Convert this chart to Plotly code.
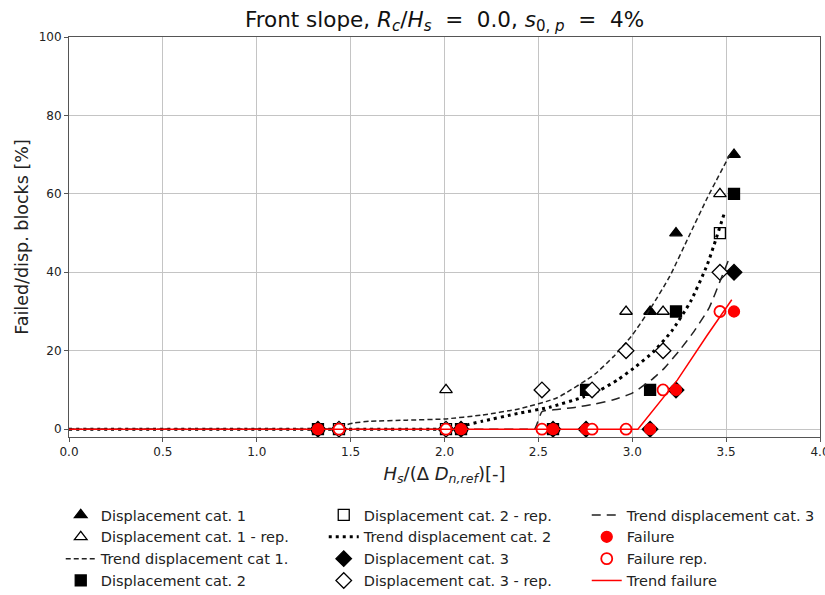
import plotly.graph_objects as go

# Measured points: Hs/(Delta Dn,ref) and percentage of displaced / failed blocks
hs_orig = [1.326, 2.088, 2.578, 2.754, 3.095, 3.233, 3.542]
hs_rep = [1.438, 2.008, 2.519, 2.786, 2.967, 3.164, 3.467]

cat1_x = [1.326, 2.088, 2.578, 3.095, 3.233, 3.542]
cat1_y = [0, 0, 0, 30, 50, 70]
cat1_rep_x = [1.438, 2.008, 2.967, 3.164, 3.467]
cat1_rep_y = [0, 10, 30, 30, 60]

cat2_y = [0, 0, 0, 10, 10, 30, 60]
cat2_rep_x = [1.438, 2.008, 3.467]
cat2_rep_y = [0, 0, 50]

cat3_y = [0, 0, 0, 0, 0, 10, 40]
cat3_rep_y = [0, 0, 10, 10, 20, 20, 40]

failure_y = [0, 0, 0, 0, 0, 10, 30]
failure_rep_y = [0, 0, 0, 0, 0, 10, 30]

# Fitted trend curves
trend1_x = [0.0, 1.40, 1.44, 1.47, 1.52, 1.6, 1.8, 2.0, 2.2, 2.4, 2.6, 2.8, 2.9, 3.0, 3.1, 3.2, 3.3, 3.4, 3.52]
trend1_y = [0.0, 0.0, 0.0, 1.0, 1.6, 2.0, 2.3, 2.6, 3.6, 5.2, 8.0, 14.0, 18.5, 24.0, 31.0, 39.0, 49.0, 59.0, 70.0]

trend2_x = [0.0, 2.04, 2.08, 2.1, 2.2, 2.39, 2.56, 2.74, 2.83, 2.92, 3.02, 3.11, 3.21, 3.31, 3.4, 3.49]
trend2_y = [0.0, 0.0, 0.0, 0.8, 2.0, 4.0, 5.6, 8.2, 10.0, 12.5, 16.0, 19.6, 25.0, 32.5, 42.0, 55.0]

trend3_x = [0.0, 2.44, 2.48, 2.52, 2.6, 2.7, 2.8, 2.9, 3.0, 3.1, 3.17, 3.25, 3.33, 3.41, 3.47, 3.52]
trend3_y = [0.0, 0.0, 0.0, 4.5, 5.0, 5.6, 6.4, 7.5, 9.2, 12.5, 15.5, 20.0, 25.0, 31.0, 38.0, 44.0]

trend_fail_x = [0.0, 3.03, 3.24, 3.4, 3.53]
trend_fail_y = [0.0, 0.0, 12.5, 24.0, 33.0]

x_ticks = [0.0, 0.5, 1.0, 1.5, 2.0, 2.5, 3.0, 3.5, 4.0]
y_ticks = [0, 20, 40, 60, 80, 100]

FONT = "DejaVu Sans"
BLACK = "black"
RED = "#ff0000"

fig = go.Figure()


def markers(name, x, y, symbol, size, fill, edge, rank, lw=1.3):
    fig.add_trace(go.Scatter(
        x=x, y=y, mode="markers", name=name, legendrank=rank,
        marker=dict(symbol=symbol, size=size, color=fill,
                    line=dict(color=edge, width=lw)),
    ))


def trend(name, x, y, color, dash, width, rank, shape="spline"):
    fig.add_trace(go.Scatter(
        x=x, y=y, mode="lines", name=name, legendrank=rank,
        line=dict(color=color, dash=dash, width=width, shape=shape,
                  smoothing=0.5 if shape == "spline" else None),
    ))


# legendrank arranges the legend row by row into three columns
markers("Displacement cat. 1", cat1_x, cat1_y, "triangle-up", 11, BLACK, BLACK, 1)
markers("Displacement cat. 1 - rep.", cat1_rep_x, cat1_rep_y, "triangle-up", 11, "white", BLACK, 4)
trend("Trend displacement cat 1.", trend1_x, trend1_y, "#222222", "5px,3px", 1.5, 7)
markers("Displacement cat. 2", hs_orig, cat2_y, "square", 11, BLACK, BLACK, 10)
markers("Displacement cat. 2 - rep.", cat2_rep_x, cat2_rep_y, "square", 11, "white", BLACK, 2)
trend("Trend displacement cat. 2", trend2_x, trend2_y, BLACK, "3px,4px", 3, 5)
markers("Displacement cat. 3", hs_orig, cat3_y, "diamond", 12, BLACK, BLACK, 8)
markers("Displacement cat. 3 - rep.", hs_rep, cat3_rep_y, "diamond", 12, "white", BLACK, 11)
trend("Trend displacement cat. 3", trend3_x, trend3_y, "#222222", "9px,6px", 1.5, 3)
markers("Failure", hs_orig, failure_y, "circle", 11, RED, RED, 6)
markers("Failure rep.", hs_rep, failure_rep_y, "circle", 11, "white", RED, 9, lw=1.8)
trend("Trend failure", trend_fail_x, trend_fail_y, RED, "solid", 1.5, 12, shape="linear")

axis_common = dict(
    showline=True, linecolor="#555555", linewidth=1, mirror=True,
    ticks="outside", ticklen=4, tickcolor="#555555",
    showgrid=True, gridcolor="#c4c4c4", gridwidth=1, zeroline=False,
    tickfont=dict(family=FONT, size=12, color="#222222"),
    ticklabeloverflow="allow",
)

fig.update_layout(
    width=825, height=595,
    margin=dict(l=69, r=5, t=37, b=158, autoexpand=False),
    paper_bgcolor="white", plot_bgcolor="white",
    font=dict(family=FONT, color="#222222"),
    title=dict(
        text="Front slope, <i>R<sub>c</sub></i>/<i>H<sub>s</sub></i> &nbsp;=&nbsp; 0.0, "
             "<i>s</i><sub>0, <i>p</i></sub> &nbsp;=&nbsp; 4%",
        x=(69 + 751 / 2) / 825, xanchor="center", y=0.968, yanchor="middle",
        font=dict(family=FONT, size=21.5, color="#111111"),
    ),
    xaxis=dict(
        range=[0, 4], tickvals=x_ticks,
        ticktext=[f"{v:.1f}" for v in x_ticks],
        title=dict(text="<i>H<sub>s</sub></i>/(Δ <i>D<sub>n,ref</sub></i>)[-]",
                   font=dict(family=FONT, size=18), standoff=8),
        **axis_common,
    ),
    yaxis=dict(
        range=[-2, 100], tickvals=y_ticks,
        title=dict(text="Failed/disp. blocks [%]",
                   font=dict(family=FONT, size=17.5), standoff=5),
        **axis_common,
    ),
    legend=dict(
        orientation="h", x=-0.011, xanchor="left", y=-0.155, yanchor="top",
        entrywidth=218, entrywidthmode="pixels",
        font=dict(family=FONT, size=14.5, color="#222222"),
        itemwidth=30, tracegroupgap=0,
        bgcolor="rgba(0,0,0,0)",
    ),
    showlegend=True,
)

fig.write_html("out.html")
